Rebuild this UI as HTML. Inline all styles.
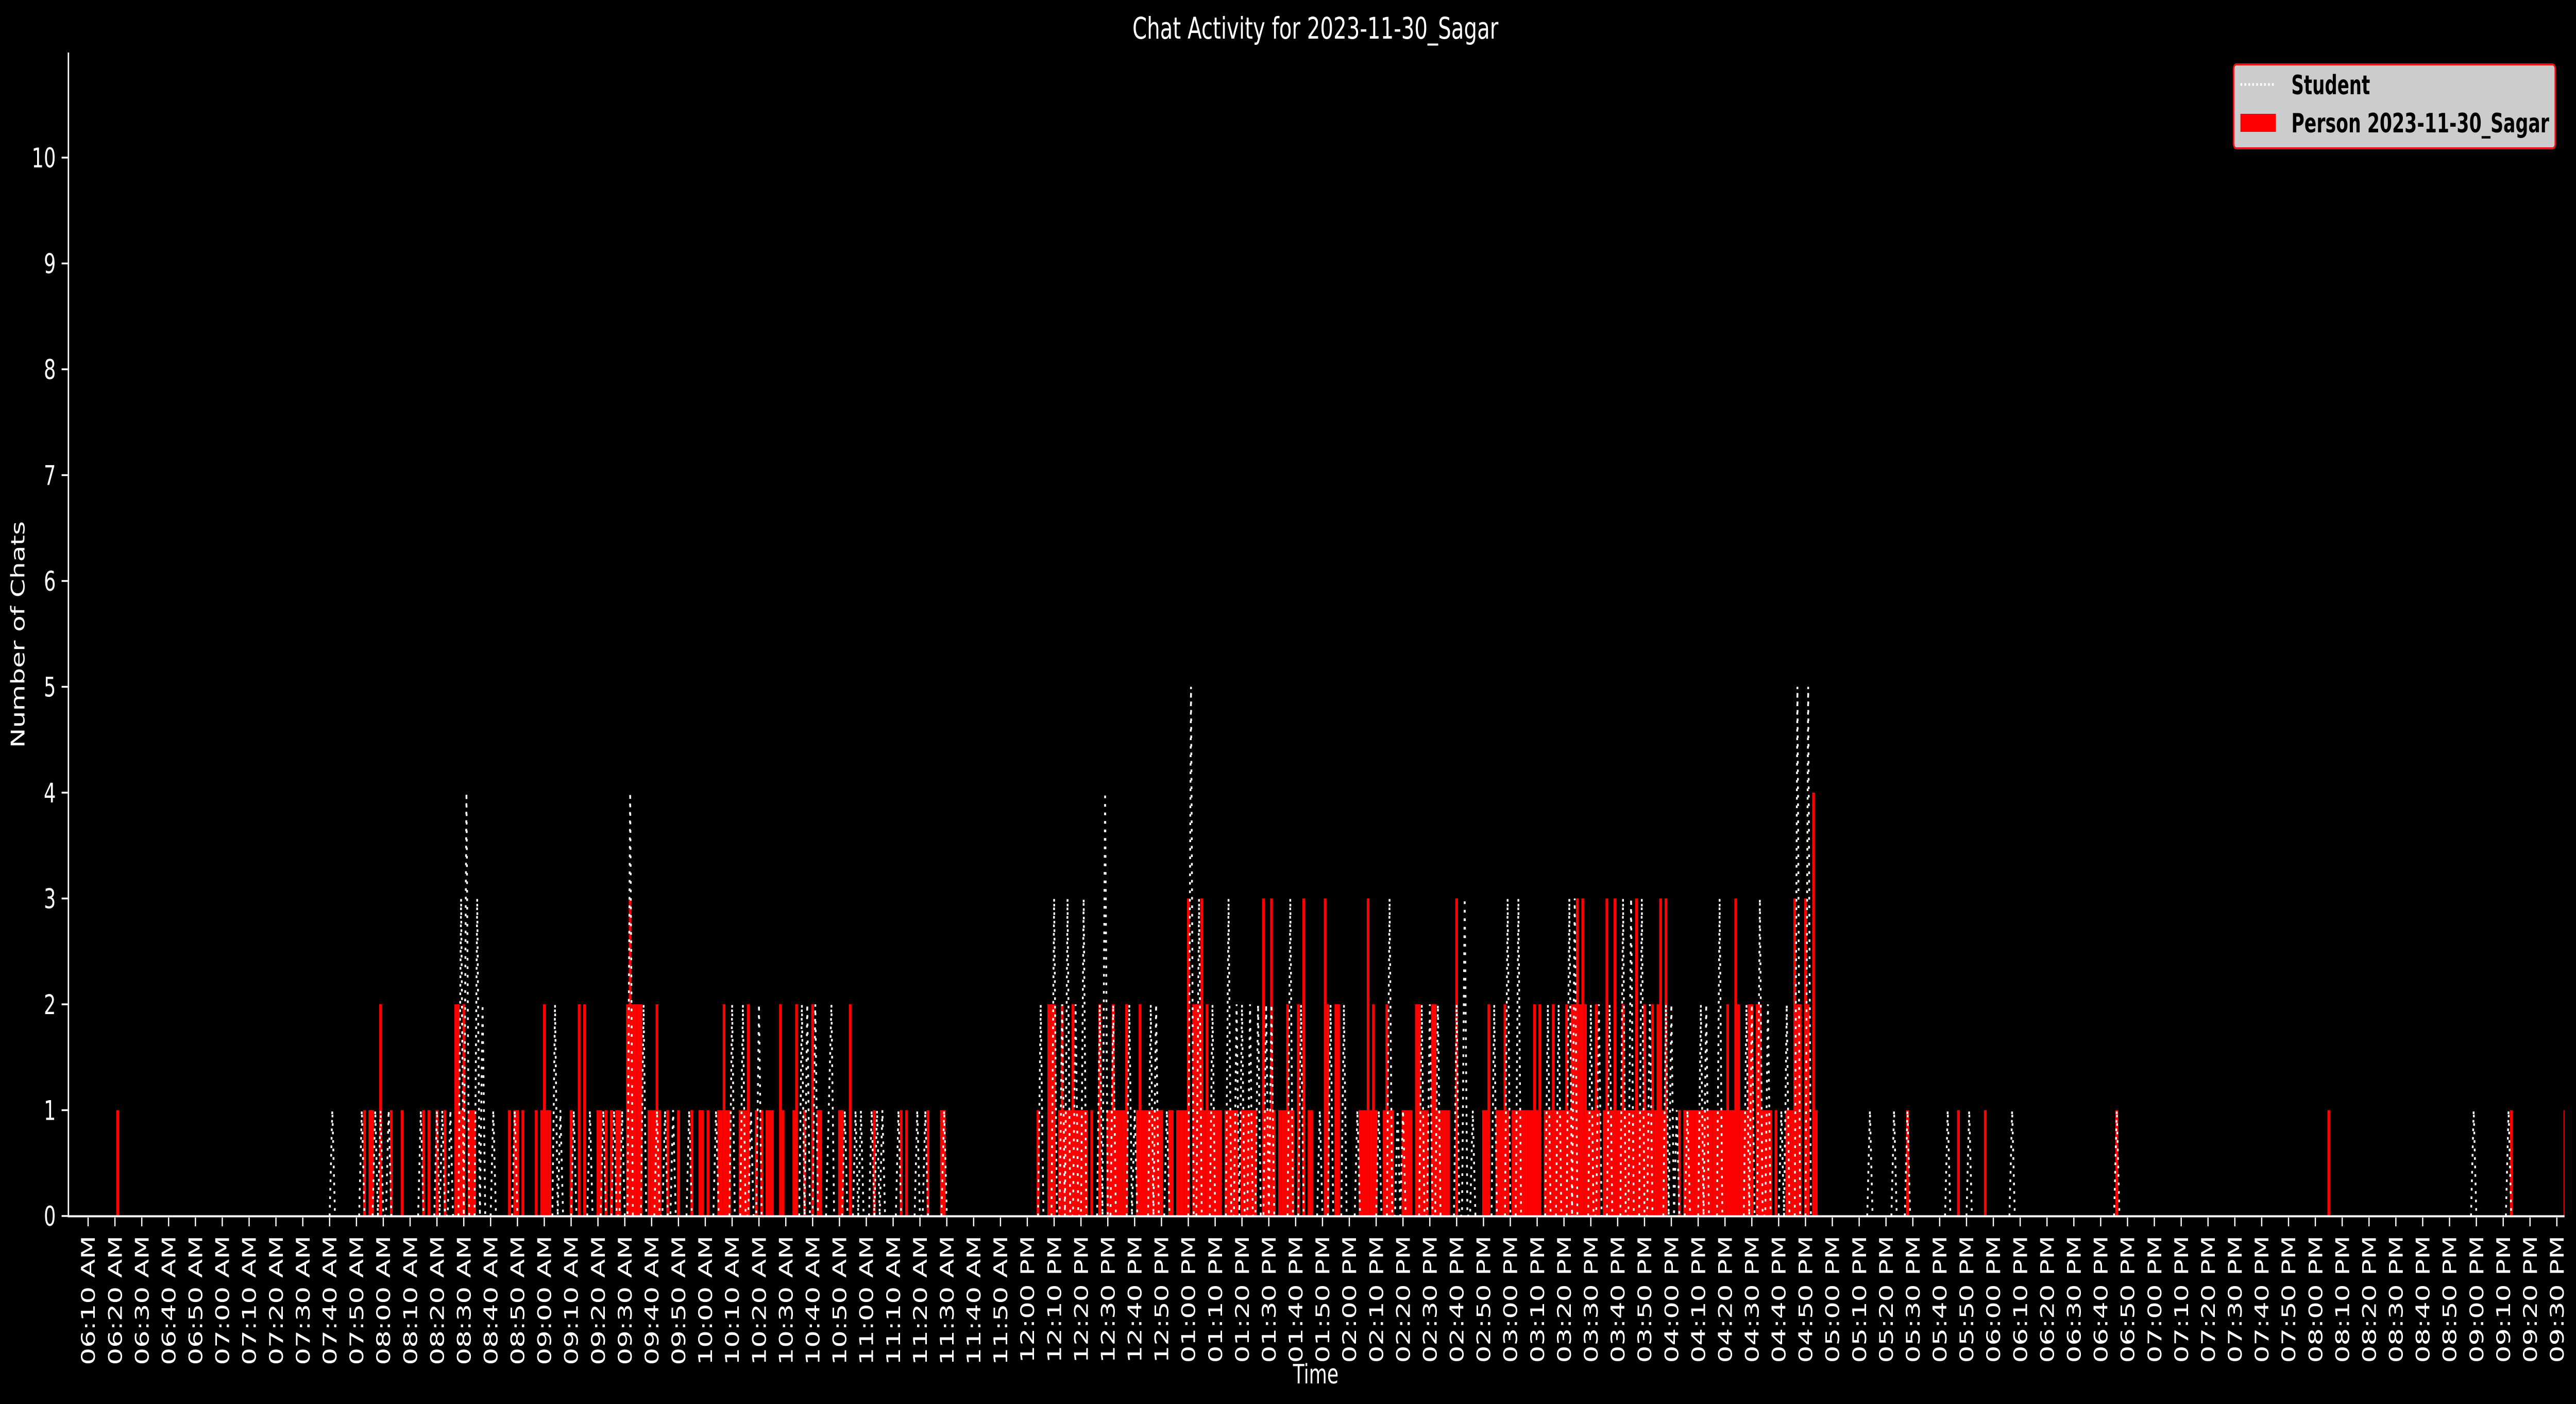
<!DOCTYPE html>
<html><head><meta charset="utf-8"><title>Chat Activity for 2023-11-30_Sagar</title>
<style>
html,body{margin:0;padding:0;background:#000;width:100%;height:100%;overflow:hidden;}
svg{display:block;width:100%;height:100%;}
text{font-family:"DejaVu Sans","Liberation Sans",sans-serif;fill:#fff;}
</style></head>
<body>
<svg id="chart" width="100%" height="100%" viewBox="0 0 7193 2726" preserveAspectRatio="none" xmlns="http://www.w3.org/2000/svg">
<rect x="0" y="0" width="7193" height="2726" fill="#000"/>
<text x="3673" y="75" font-size="58" text-anchor="middle">Chat Activity for 2023-11-30_Sagar</text>
<text x="3674" y="2686" font-size="52" text-anchor="middle">Time</text>
<text transform="translate(68,1232) rotate(-90)" font-size="52" text-anchor="middle">Number of Chats</text>
<defs><clipPath id="plotclip"><rect x="191" y="100" width="6970" height="2260"/></clipPath></defs>
<g id="bars" clip-path="url(#plotclip)"></g>
<g id="student" clip-path="url(#plotclip)"></g>
<g id="axes"></g>
<g id="legend">
<rect x="6237" y="125" width="898" height="163" rx="8" ry="8" fill="#cccccc" stroke="#e8141a" stroke-width="4"/>
<line x1="6256" y1="164" x2="6355" y2="164" stroke="#fff" stroke-width="5" stroke-dasharray="5 6"/>
<text x="6398" y="183" font-size="52" font-weight="bold" textLength="220" lengthAdjust="spacingAndGlyphs" style="fill:#000">Student</text>
<rect x="6256" y="221" width="99" height="35" fill="#ff0000"/>
<text x="6398" y="257" font-size="52" font-weight="bold" textLength="720" lengthAdjust="spacingAndGlyphs" style="fill:#000">Person 2023-11-30_Sagar</text>
</g>
</svg>
<script>
// minutes since 06:00 AM
const yTicks = [0,1,2,3,4,5,6,7,8,9,10];
const xTickMinutes = [10,20,30,40,50,60,70,80,90,100,110,120,130,140,150,160,170,180,190,200,210,220,230,240,250,260,270,280,290,300,310,320,330,340,350,360,370,380,390,400,410,420,430,440,450,460,470,480,490,500,510,520,530,540,550,560,570,580,590,600,610,620,630,640,650,660,670,680,690,700,710,720,730,740,750,760,770,780,790,800,810,820,830,840,850,860,870,880,890,900,910,920,930];
const xTickLabels = ["06:10 AM","06:20 AM","06:30 AM","06:40 AM","06:50 AM","07:00 AM","07:10 AM","07:20 AM","07:30 AM","07:40 AM","07:50 AM","08:00 AM","08:10 AM","08:20 AM","08:30 AM","08:40 AM","08:50 AM","09:00 AM","09:10 AM","09:20 AM","09:30 AM","09:40 AM","09:50 AM","10:00 AM","10:10 AM","10:20 AM","10:30 AM","10:40 AM","10:50 AM","11:00 AM","11:10 AM","11:20 AM","11:30 AM","11:40 AM","11:50 AM","12:00 PM","12:10 PM","12:20 PM","12:30 PM","12:40 PM","12:50 PM","01:00 PM","01:10 PM","01:20 PM","01:30 PM","01:40 PM","01:50 PM","02:00 PM","02:10 PM","02:20 PM","02:30 PM","02:40 PM","02:50 PM","03:00 PM","03:10 PM","03:20 PM","03:30 PM","03:40 PM","03:50 PM","04:00 PM","04:10 PM","04:20 PM","04:30 PM","04:40 PM","04:50 PM","05:00 PM","05:10 PM","05:20 PM","05:30 PM","05:40 PM","05:50 PM","06:00 PM","06:10 PM","06:20 PM","06:30 PM","06:40 PM","06:50 PM","07:00 PM","07:10 PM","07:20 PM","07:30 PM","07:40 PM","07:50 PM","08:00 PM","08:10 PM","08:20 PM","08:30 PM","08:40 PM","08:50 PM","09:00 PM","09:10 PM","09:20 PM","09:30 PM"];

const pMin = [21,113,115,116,119,123,127,135,137,140,143,147,148,149,150,152,153,154,167,169,170,172,177,179,180,181,182,190,193,195,200,201,203,205,207,208,211,212,213,214,215,216,219,220,221,222,223,226,230,235,238,239,241,245,246,247,248,249,253,254,255,256,259,261,263,264,265,268,269,273,274,277,280,282,283,290,291,294,303,313,315,323,328,329,364,368,369,370,372,373,374,375,376,377,378,379,380,381,382,384,387,390,391,392,393,394,395,396,397,401,402,403,404,405,406,407,408,409,410,413,414,416,417,418,419,420,422,423,424,425,426,427,428,429,430,431,432,434,435,436,437,438,440,441,442,443,444,445,448,449,450,451,452,454,455,456,457,458,459,461,463,465,466,471,472,475,476,484,485,486,487,488,489,490,493,494,495,496,500,501,502,503,505,506,507,508,509,511,512,513,514,515,516,517,520,530,531,532,535,536,537,538,539,541,542,543,544,545,546,547,548,549,550,551,553,554,555,556,557,558,559,560,561,562,563,564,565,566,567,568,569,570,571,572,573,575,576,577,578,579,580,581,582,583,584,585,586,587,588,589,590,591,592,593,594,595,596,597,598,603,605,606,607,608,609,610,611,612,613,614,615,616,617,618,619,620,621,622,623,624,625,626,627,628,629,630,632,633,634,635,636,637,639,643,644,645,646,647,648,650,651,653,654,688,707,717,766,845,913,933];
const pVal = [1,1,1,1,2,1,1,1,1,1,1,2,2,1,2,1,1,1,1,1,1,1,1,1,2,1,1,1,2,2,1,1,1,1,1,1,2,3,2,2,2,2,1,1,1,2,1,1,1,1,1,1,1,1,1,2,1,1,1,1,1,2,1,1,1,1,1,2,1,1,2,1,2,1,1,1,1,2,1,1,1,1,1,1,1,2,2,2,1,2,1,1,1,2,1,1,1,1,1,1,2,1,1,2,1,1,1,1,2,1,2,1,1,1,1,1,1,1,1,1,1,1,1,1,1,3,2,2,2,3,1,2,1,1,1,1,1,1,1,1,1,1,1,1,1,1,1,1,3,1,1,3,1,1,1,1,2,1,1,2,3,1,1,3,2,2,2,1,1,1,3,1,2,1,1,2,1,1,1,1,1,1,2,2,1,1,1,2,2,1,1,1,1,1,3,1,1,2,1,1,1,2,1,1,1,1,1,1,1,1,1,2,1,2,1,1,1,2,1,1,1,1,2,1,2,2,3,2,3,2,1,1,1,2,1,1,3,1,1,3,1,1,2,1,1,1,1,3,1,1,2,1,1,2,1,2,3,1,3,1,1,1,1,1,1,1,1,1,1,1,1,1,1,1,1,1,2,1,1,3,2,1,1,1,2,2,2,2,1,1,1,1,1,1,1,1,3,2,2,3,2,4,1,1,1,1,1,1,1,1];

const sMin = [101,112,117,119,122,134,140,142,145,149,151,155,157,161,169,184,186,191,197,202,206,209,212,217,222,225,228,234,244,250,254,257,260,276,278,281,286,287,292,296,298,302,304,306,312,319,322,329,365,370,373,375,378,381,387,389,392,398,400,406,408,412,421,424,429,435,438,440,443,446,449,451,458,462,469,473,478,483,491,495,498,500,507,510,513,520,523,526,534,539,543,554,558,562,564,570,573,577,582,585,589,592,598,600,602,606,611,613,618,628,630,633,636,641,643,647,651,674,683,688,703,711,727,766,899,912];
const sVal = [1,1,1,1,1,1,1,1,1,3,4,3,2,1,1,2,1,1,1,1,1,1,4,2,1,1,1,1,1,2,2,1,2,2,2,2,1,2,1,1,1,1,1,1,1,1,1,1,2,3,2,3,2,3,2,4,2,2,1,2,2,1,5,3,2,3,2,2,2,2,2,2,3,2,1,2,2,1,1,3,1,1,2,2,2,2,3,1,2,3,3,2,2,3,3,2,2,2,3,3,3,2,2,2,1,1,2,2,3,2,2,3,2,1,2,5,5,1,1,1,1,1,1,1,1,1];

const NS = "http://www.w3.org/2000/svg";
const X0 = 246, PX_PER_MIN = 7.493, Y0 = 2361, PX_PER_UNIT = 205.5;
function xScale(m){ return X0 + (m - 10) * PX_PER_MIN; }
function yScale(v){ return Y0 - v * PX_PER_UNIT; }

const bars = document.getElementById('bars');
for (let i = 0; i < pMin.length; i++) {
  const r = document.createElementNS(NS, 'rect');
  const h = pVal[i] * PX_PER_UNIT;
  r.setAttribute('x', (xScale(pMin[i]) - 3.8).toFixed(1));
  r.setAttribute('y', yScale(pVal[i]).toFixed(1));
  r.setAttribute('width', '7.6');
  r.setAttribute('height', h.toFixed(1));
  r.setAttribute('fill', '#ff0000');
  
  
  bars.appendChild(r);
}

const sMap = {};
for (let i = 0; i < sMin.length; i++) sMap[sMin[i]] = sVal[i];
const studentG = document.getElementById('student');
let seg = [];
function flush(){
  if (seg.length > 1) {
    const pl = document.createElementNS(NS, 'polyline');
    pl.setAttribute('points', seg.join(' '));
    pl.setAttribute('fill', 'none');
    pl.setAttribute('stroke', '#ffffff');
    pl.setAttribute('stroke-width', '5');
    pl.setAttribute('stroke-dasharray', '5 11.5');
    
    
    studentG.appendChild(pl);
  }
  seg = [];
}
for (let m = 0; m <= 935; m++) {
  const v = sMap[m] || 0;
  const near = v || sMap[m-1] || sMap[m+1];
  if (near) seg.push(xScale(m).toFixed(1) + ',' + yScale(v).toFixed(1));
  else flush();
}
flush();

const axes = document.getElementById('axes');
const ySpine = document.createElementNS(NS, 'line');
ySpine.setAttribute('x1', '191'); ySpine.setAttribute('y1', '102');
ySpine.setAttribute('x2', '191'); ySpine.setAttribute('y2', '2363');
ySpine.setAttribute('stroke', '#fff'); ySpine.setAttribute('stroke-width', '4');


axes.appendChild(ySpine);
const xSpine = document.createElementNS(NS, 'line');
xSpine.setAttribute('x1', '189'); xSpine.setAttribute('y1', '2361.5');
xSpine.setAttribute('x2', '7161'); xSpine.setAttribute('y2', '2361.5');
xSpine.setAttribute('stroke', '#fff'); xSpine.setAttribute('stroke-width', '4');


axes.appendChild(xSpine);

for (let i = 0; i < yTicks.length; i++) {
  const y = yScale(yTicks[i]);
  const t = document.createElementNS(NS, 'line');
  t.setAttribute('x1', '172'); t.setAttribute('x2', '189');
  t.setAttribute('y1', y); t.setAttribute('y2', y);
  t.setAttribute('stroke', '#fff'); t.setAttribute('stroke-width', '3.5');
  
  
  axes.appendChild(t);
  const l = document.createElementNS(NS, 'text');
  l.setAttribute('x', '156'); l.setAttribute('y', (y + 19).toFixed(1));
  l.setAttribute('font-size', '53'); l.setAttribute('text-anchor', 'end');
  l.textContent = yTicks[i];
  
  
  axes.appendChild(l);
}
for (let i = 0; i < xTickMinutes.length; i++) {
  const x = xScale(xTickMinutes[i]);
  const t = document.createElementNS(NS, 'line');
  t.setAttribute('x1', x); t.setAttribute('x2', x);
  t.setAttribute('y1', '2364'); t.setAttribute('y2', '2381');
  t.setAttribute('stroke', '#fff'); t.setAttribute('stroke-width', '3.5');
  
  
  axes.appendChild(t);
  const l = document.createElementNS(NS, 'text');
  l.setAttribute('transform', 'translate(' + (x + 19).toFixed(1) + ',2399) rotate(-90)');
  l.setAttribute('font-size', '53'); l.setAttribute('text-anchor', 'end');
  l.textContent = xTickLabels[i];
  
  
  axes.appendChild(l);
}
</script>
</body></html>
